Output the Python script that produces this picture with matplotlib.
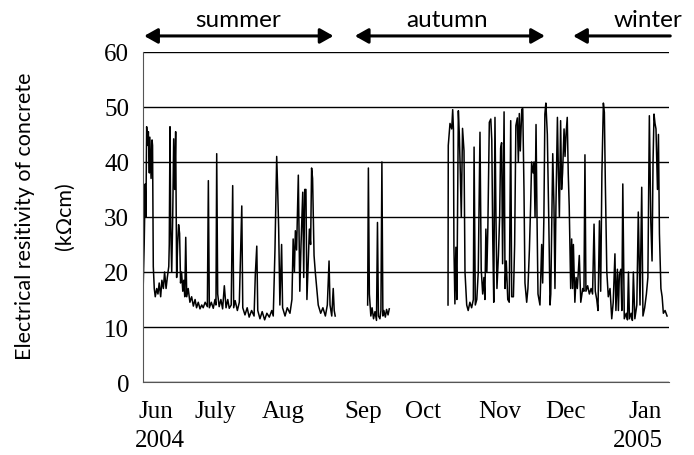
import matplotlib
matplotlib.use('Agg')
import matplotlib.pyplot as plt

# Electrical resistivity of concrete, Jun 2004 - Jan 2005
# x = days since 1 June 2004, y = resistivity (kOhm cm)

# summer segment (Jun - end of Aug)
days_summer = [0.1, 0.5, 0.9, 1.2, 1.5, 1.9, 2.2, 2.6, 2.8, 3.3, 3.7, 3.9, 4.2, 4.6, 5.0,
               5.6, 6.1, 6.6, 7.2, 7.7, 8.3, 8.8, 9.4, 9.9, 10.5, 10.7, 11.0, 11.3, 11.7,
               12.1, 12.5, 12.9, 13.3, 13.7, 14.1, 14.5, 14.9, 15.3, 15.7, 16.2, 16.6,
               17.0, 17.4, 17.8, 18.4, 19.1, 19.8, 20.5, 21.2, 21.8, 22.5, 23.2, 23.9,
               24.5, 25.3, 26.2, 26.6, 27.0, 27.8, 28.6, 29.3, 29.7, 30.0, 30.4, 31.0,
               31.7, 32.4, 33.1, 33.8, 34.5, 35.1, 35.9, 36.5, 36.9, 37.5, 38.4, 39.2,
               40.2, 40.6, 41.5, 42.4, 43.2, 44.2, 45.2, 45.7, 46.3, 46.7, 47.6, 48.5,
               49.5, 50.4, 51.4, 52.4, 53.0, 53.7, 54.4, 54.8, 55.2, 55.7, 56.4, 56.8,
               57.8, 58.7, 59.8, 60.6, 61.1, 61.6, 62.0, 62.5, 63.2, 63.8, 64.3, 65.0,
               65.4, 65.8, 66.3, 66.7, 67.1, 67.7, 68.2, 68.6, 69.0, 69.6, 70.1, 70.7,
               71.3, 72.3, 73.2, 74.2, 75.0, 75.7, 76.1, 76.8, 77.4, 77.8, 78.2]
res_summer = [17.5, 25, 36, 30, 46.4, 43, 45.5, 38, 44.5, 37, 44, 43, 21, 17, 15.5,
              17, 16, 18, 15.5, 18.5, 17, 20, 17, 19, 21, 25, 46.4, 28, 20,
              30, 44.2, 35, 45.5, 19, 25, 28.6, 27, 18, 20, 16.5, 18.5,
              15.5, 26.3, 15.5, 17, 14.5, 15.5, 13.8, 15, 13.5, 14.5, 13.3, 14,
              13.5, 14.5, 13.7, 36.6, 13.5, 14.5, 13.4, 15, 14, 41.5, 16, 13.7,
              15, 13.3, 17.5, 13.5, 15, 13.4, 14, 35.7, 13.5, 14.8, 13, 14.5,
              32, 13.5, 12.2, 13.5, 11.8, 13, 12, 19.5, 24.7, 13, 11.5, 12.8,
              11.3, 12.5, 11.8, 13, 12, 24, 41, 35, 28, 14, 25, 13.5,
              12, 13.5, 12.5, 15, 26, 20, 27.5, 24, 37.6, 16.5, 25, 34.5,
              19, 35, 35, 15, 20, 27.8, 25, 38.9, 37, 23, 20, 17,
              14, 12.5, 13.5, 12, 14, 22, 14, 12, 17, 13, 12]

# September segment
days_sep = [91.4, 91.7, 92.1, 92.7, 93.2, 93.8, 94.4, 95.0, 95.4, 95.8, 96.4, 96.8,
            97.2, 97.6, 98.0, 98.6, 99.1, 99.7, 100.2]
res_sep = [14, 38.9, 16, 12, 13.5, 11.5, 12.8, 11.2, 29.0, 12, 11.5, 13,
           40, 12, 13, 11.8, 13.2, 12.2, 13.3]

# autumn / winter segment (Oct - Jan)
days_aut = [124.1, 124.2, 124.9, 125.6, 126.0, 126.3, 126.5, 126.9, 127.3, 127.7, 128.3,
            128.7, 129.1, 129.5, 130.0, 130.6, 131.0, 131.7, 132.3, 133.0, 133.7, 134.4,
            134.7, 135.2, 135.8, 136.4, 137.1, 137.6, 138.2, 138.7, 139.1, 139.5, 139.9,
            140.3, 140.9, 141.5, 141.9, 142.3, 142.7, 143.2, 143.6, 144.0, 144.6, 145.1,
            145.5, 145.9, 146.3, 146.9, 147.3, 147.8, 148.4, 149.0, 149.6, 150.0, 150.7,
            151.2, 151.7, 152.3, 152.7, 153.1, 153.5, 154.1, 154.5, 155.0, 155.4, 156.1,
            156.6, 157.2, 157.7, 158.1, 158.7, 159.1, 159.5, 159.9, 160.3, 160.7, 161.5,
            162.2, 162.6, 163.1, 163.5, 163.9, 164.5, 165.1, 165.6, 165.9, 166.7, 167.2,
            167.6, 168.0, 168.6, 169.0, 169.4, 169.9, 170.3, 170.7, 171.3, 171.7, 172.1,
            172.6, 173.0, 173.4, 174.0, 174.4, 174.8, 175.1, 175.7, 176.2, 176.7, 177.5,
            178.1, 178.9, 179.4, 179.8, 180.2, 180.9, 181.6, 182.3, 182.9, 183.5, 184.0,
            184.6, 185.1, 185.7, 186.2, 186.7, 187.3, 187.7, 188.1, 188.7, 189.3, 190.0,
            190.7, 191.3, 192.0, 192.4, 193.0, 193.4, 193.8, 194.4, 194.8, 195.2, 195.8,
            196.6, 197.1, 197.5, 197.9, 198.6, 199.1, 199.5, 200.1, 200.9, 201.5, 202.2,
            202.9, 203.4, 204.1, 204.8, 205.4, 206.0, 206.6, 207.1, 207.5, 207.9, 208.3,
            208.7, 209.3, 209.7, 210.1, 210.7, 211.2, 211.7, 212.4, 213.2]
res_aut = [14, 43, 47, 46, 49.5, 46, 24.7, 14.2, 24.5, 15, 49.3,
           45, 38, 30, 46.1, 42, 20, 14, 13, 14.5, 13.5, 15,
           42.7, 14, 15, 20, 45.4, 20.5, 16, 19, 15, 27.8, 20,
           28, 47.2, 47.8, 44, 26, 14.5, 48.1, 30, 17, 23, 30,
           42.5, 43.5, 21.5, 49.1, 17, 22, 15, 14.5, 47.5, 15.5, 15.5,
           25, 46.6, 48, 40, 48.8, 42, 49.6, 49.7, 35, 18, 14.5,
           17, 24, 32, 40, 38, 40, 30, 46.8, 30, 16, 14,
           25, 18, 30, 48.7, 50.7, 45, 29, 14, 16, 41.5, 32,
           17, 32, 48.1, 38, 30, 47.5, 35, 38, 46, 41, 45,
           48.1, 38, 32, 17, 26, 17, 25, 14.5, 19, 17, 23,
           14.5, 17, 16.5, 41.3, 16.5, 17.5, 16, 17, 16, 28.7, 16.5,
           15, 13, 29.3, 16.5, 38, 50.7, 49, 36, 20, 15.5, 17,
           11.5, 14.5, 23.3, 13, 20.5, 13, 19.5, 20.5, 13, 36, 11.5,
           12.5, 11.3, 20, 11.5, 12.5, 11.2, 20, 11.5, 14, 30.9, 14,
           35.4, 12, 13.5, 16, 19, 48.4, 29, 22, 40, 48.7, 47,
           46, 35, 45, 27, 17, 15.5, 12.5, 13, 12]

month_labels = ['Jun', 'July', 'Aug', 'Sep', 'Oct', 'Nov', 'Dec', 'Jan']
month_pos = [5.3, 29.3, 56.9, 89.7, 113.9, 145.3, 171.7, 204.2]
yticks = [0, 10, 20, 30, 40, 50, 60]

fig = plt.figure(figsize=(6.94, 4.56), dpi=100)
ax = fig.add_axes([0.206, 0.160, 0.758, 0.724])

for d, r in [(days_summer, res_summer), (days_sep, res_sep), (days_aut, res_aut)]:
    ax.plot(d, r, color='black', lw=1.1)

ax.set_xlim(0, 214)
ax.set_ylim(0, 60)
ax.set_yticks(yticks)
ax.set_yticklabels([str(v) for v in yticks], fontfamily='Liberation Serif', fontsize=18)
ax.yaxis.grid(True, color='black', lw=1.0)
ax.set_axisbelow(True)
for s in ['top', 'right']:
    ax.spines[s].set_visible(False)
ax.spines['left'].set_color('#555555')
ax.spines['bottom'].set_color('#555555')
ax.tick_params(axis='y', length=0, pad=10)
ax.set_xticks(month_pos)
ax.set_xticklabels(month_labels, fontfamily='Liberation Serif', fontsize=18)
ax.tick_params(axis='x', length=0, pad=13)

# year labels under first and last month
ax.text(6.8, -10.6, '2004', ha='center', va='center', fontsize=18,
        fontfamily='Liberation Serif', clip_on=False)
ax.text(201.5, -10.6, '2005', ha='center', va='center', fontsize=18,
        fontfamily='Liberation Serif', clip_on=False)

# y label, two lines
fig.text(0.036, 0.526, 'Electrical resitivity of concrete', rotation=90,
         ha='center', va='center', fontsize=15.5, fontfamily='Lato')
fig.text(0.094, 0.526, '(k\u03a9cm)', rotation=90,
         ha='center', va='center', fontsize=15.5, fontfamily='Lato')

# seasons
arrow_kw = dict(arrowstyle='<|-|>,head_length=0.8,head_width=0.45', color='black', lw=2.2,
                shrinkA=0, shrinkB=0)
ax.annotate('', xy=(0.5, 62.9), xytext=(77.5, 62.9), arrowprops=arrow_kw,
            annotation_clip=False)
ax.annotate('', xy=(86.2, 62.9), xytext=(163.5, 62.9), arrowprops=arrow_kw,
            annotation_clip=False)
ax.annotate('', xy=(175.0, 62.9), xytext=(214.5, 62.9),
            arrowprops=dict(arrowstyle='-|>,head_length=0.8,head_width=0.45', color='black',
                            lw=2.2, shrinkA=0, shrinkB=0),
            annotation_clip=False)
ax.text(38.6, 65.8, 'summer', ha='center', va='center', fontsize=17.5, fontfamily='Lato')
ax.text(123.7, 65.8, 'autumn', ha='center', va='center', fontsize=17.5, fontfamily='Lato')
ax.text(205.4, 65.8, 'winter', ha='center', va='center', fontsize=17.5, fontfamily='Lato')

fig.savefig('out.png', dpi=100)
